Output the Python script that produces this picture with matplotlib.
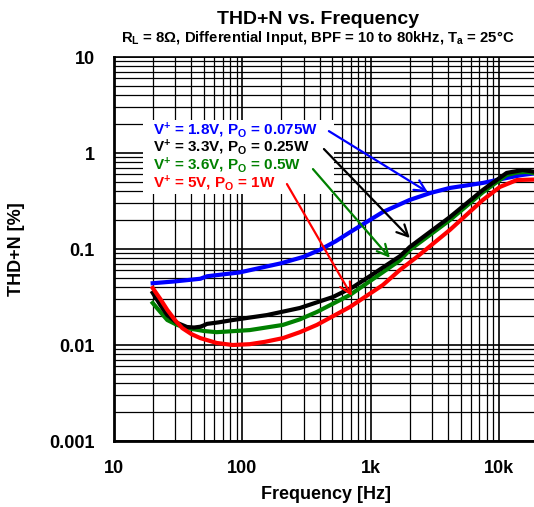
import matplotlib

matplotlib.use("Agg")
import matplotlib.pyplot as plt
from matplotlib.ticker import FixedLocator, FixedFormatter, LogLocator, NullFormatter

plt.rcParams["font.family"] = ["Liberation Sans", "DejaVu Sans"]
plt.rcParams["font.weight"] = "bold"
plt.rcParams["mathtext.fontset"] = "custom"
plt.rcParams["mathtext.rm"] = "Liberation Sans:bold"
plt.rcParams["mathtext.it"] = "Liberation Sans:bold"
plt.rcParams["mathtext.bf"] = "Liberation Sans:bold"
plt.rcParams["mathtext.default"] = "rm"

# THD+N (%) vs frequency (Hz), one series per supply / output power setting
freq_18v = [20, 30, 47, 53, 95, 200, 300, 400, 530, 690, 1240, 2000, 2900, 4100, 7400, 11400,
            15000, 20000]
thd_18v = [0.044, 0.046, 0.049, 0.052, 0.057, 0.071, 0.083, 0.098, 0.12, 0.150, 0.243, 0.324,
           0.383, 0.432, 0.487, 0.549, 0.59, 0.62]

freq_33v = [20, 23, 26, 31, 37, 42, 47, 50, 53, 65, 84, 155, 280, 506, 724, 1000, 1680, 2010,
            4120, 7440, 11400, 15200, 20000]
thd_33v = [0.035, 0.026, 0.0205, 0.017, 0.0154, 0.0152, 0.0155, 0.016, 0.0166, 0.0172, 0.0182,
           0.0205, 0.0243, 0.0316, 0.040, 0.053, 0.084, 0.105, 0.215, 0.412, 0.62, 0.665, 0.63]

freq_36v = [20, 23, 26, 31, 37, 50, 63, 114, 207, 280, 380, 687, 1000, 1680, 2010, 4120, 7440,
            11400, 13700, 16000, 20000]
thd_36v = [0.0274, 0.022, 0.0182, 0.0162, 0.0150, 0.0140, 0.0136, 0.0143, 0.0162, 0.0185, 0.0221,
           0.0332, 0.047, 0.076, 0.098, 0.20, 0.39, 0.59, 0.625, 0.635, 0.61]

freq_5v = [20, 23, 26, 30, 34, 40, 47, 63, 84, 114, 150, 207, 280, 380, 687, 1240, 1680, 2280,
           4120, 7440, 10100, 13700, 20000]
thd_5v = [0.0393, 0.030, 0.0232, 0.018, 0.0150, 0.0130, 0.0118, 0.0105, 0.0100, 0.0102, 0.0108,
          0.0118, 0.0136, 0.0162, 0.0249, 0.0422, 0.0604, 0.0826, 0.158, 0.324, 0.443, 0.523, 0.53]

series_labels = [
    r"V$^{+}$ = 1.8V, P$_{O}$ = 0.075W",
    r"V$^{+}$ = 3.3V, P$_{O}$ = 0.25W",
    r"V$^{+}$ = 3.6V, P$_{O}$ = 0.5W",
    r"V$^{+}$ = 5V, P$_{O}$ = 1W",
]
series_colors = ["#0000ff", "#000000", "#008000", "#ff0000"]

# arrow start (next to the label) and tip (on the curve), in data coords
arrow_tails = [(471, 1.69), (431, 1.10), (354, 0.68), (222, 0.475)]
arrow_tips = [(2780, 0.39), (2010, 0.13), (1406, 0.081), (711, 0.0324)]

x_ticks = [10, 100, 1000, 10000]
x_ticklabels = ["10", "100", "1k", "10k"]
y_ticks = [0.001, 0.01, 0.1, 1, 10]
y_ticklabels = ["0.001", "0.01", "0.1", "1", "10"]

W, H = 534, 507
fig = plt.figure(figsize=(W / 100, H / 100), dpi=100)
ax = fig.add_axes([114 / W, 1 - 441 / H, 424 / W, 384 / H])

ax.set_xscale("log")
ax.set_yscale("log")
ax.set_xlim(10, 20000)
ax.set_ylim(0.001, 10)

ax.xaxis.set_major_locator(FixedLocator(x_ticks))
ax.xaxis.set_major_formatter(FixedFormatter(x_ticklabels))
ax.yaxis.set_major_locator(FixedLocator(y_ticks))
ax.yaxis.set_major_formatter(FixedFormatter(y_ticklabels))
for axis in (ax.xaxis, ax.yaxis):
    axis.set_minor_locator(LogLocator(base=10, subs=range(2, 10), numticks=20))
    axis.set_minor_formatter(NullFormatter())

ax.grid(which="major", color="black", linewidth=1.2)
ax.grid(which="minor", color="black", linewidth=0.9)
ax.set_axisbelow(True)
ax.tick_params(which="both", length=0, labelsize=13)
ax.tick_params(axis="x", pad=14)
ax.tick_params(axis="y", pad=14)
for side in ("left", "bottom"):
    ax.spines[side].set_linewidth(2)
for side in ("top", "right"):
    ax.spines[side].set_linewidth(1.2)

lw = 3.0
ax.plot(freq_18v, thd_18v, color=series_colors[0], lw=lw, zorder=3)
ax.plot(freq_36v, thd_36v, color=series_colors[2], lw=lw, zorder=4)
ax.plot(freq_33v, thd_33v, color=series_colors[1], lw=lw, zorder=5)
ax.plot(freq_5v, thd_5v, color=series_colors[3], lw=lw, zorder=6)

# label block with white background
ax.add_patch(plt.Rectangle((0.068, 0.642), 0.45, 0.195, transform=ax.transAxes,
                           facecolor="white", edgecolor="none", zorder=7))
for i, (label, color) in enumerate(zip(series_labels, series_colors)):
    ax.text(0.092, 0.81 - i * 0.046, label, color=color, fontsize=11, fontweight="bold",
            transform=ax.transAxes, va="center", ha="left", zorder=8)

for tail, tip, color in zip(arrow_tails, arrow_tips, series_colors):
    ax.annotate("", xy=tip, xytext=tail,
                arrowprops=dict(arrowstyle="->", color=color, lw=1.6,
                                mutation_scale=20, shrinkA=0, shrinkB=0),
                zorder=8)

ax.set_xlabel("Frequency [Hz]", fontsize=13, fontweight="bold", labelpad=6)
ax.set_ylabel("THD+N [%]", fontsize=13, fontweight="bold")
ax.yaxis.set_label_coords(-0.21, 0.5)

fig.text(318 / W, 1 - 20 / H, "THD+N vs. Frequency", ha="center", va="center",
         fontsize=14, fontweight="bold")
fig.text(318 / W, 1 - 38 / H,
         r"R$_{L}$ = 8Ω, Differential Input, BPF = 10 to 80kHz, T$_{a}$ = 25°C",
         ha="center", va="center", fontsize=10.7, fontweight="bold")

fig.savefig("out.png", dpi=100)
